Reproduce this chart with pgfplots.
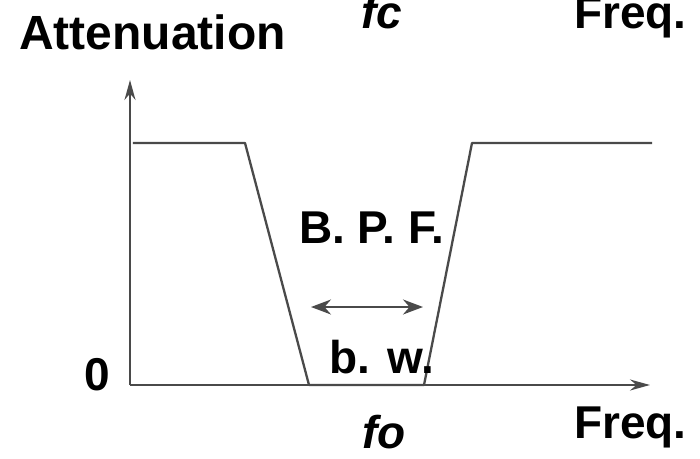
\documentclass[border=0pt]{standalone}
\usepackage{fontspec}
\setmainfont{Liberation Sans}
\usepackage{pgfplots}
\pgfplotsset{compat=1.18}
\usetikzlibrary{arrows.meta}

\definecolor{lineg}{HTML}{4A4A4A}
\tikzset{txt/.style={font=\fontsize{46}{50}\selectfont\bfseries, inner sep=0pt, anchor=base west},
         itx/.style={txt, font=\fontsize{46}{50}\selectfont\bfseries\itshape}}

\begin{document}
\begin{tikzpicture}
\begin{axis}[
  x=1pt, y=1pt,
  xmin=130, xmax=650, ymin=73, ymax=378,
  axis lines=left,
  axis line style={lineg, line width=2.3pt},
  x axis line style={-{Stealth[length=20pt,width=11pt]}},
  y axis line style={-{Stealth[length=20pt,width=11pt]}},
  xtick=\empty, ytick=\empty,
  clip=false,
]
% pass-band attenuation profile (pixel coords, y flipped)
\addplot[lineg, line width=2.3pt, line join=round] coordinates {
  (133,315) (245,315) (309,73) (424,73) (472,315) (652,315)
};
% bandwidth arrow
\addplot[lineg, line width=2pt, {Stealth[length=20pt,width=15pt]}-{Stealth[length=20pt,width=15pt]}]
  coordinates {(311,151) (423,151)};

\node[txt, font=\fontsize{48}{52}\selectfont\bfseries] at (axis cs:19,408) {Attenuation};
\node[itx] at (axis cs:361,429) {fc};
\node[txt] at (axis cs:574,429) {Freq.};
\node[txt] at (axis cs:299,215) {B. P. F.};
\node[txt] at (axis cs:329,85) {b. w.};
\node[txt] at (axis cs:84,68) {0};
\node[txt] at (axis cs:574,20) {Freq.};
\node[itx] at (axis cs:362,10) {fo};

\coordinate (bbsw) at (axis cs:0,0);
\coordinate (bbne) at (axis cs:700,458);
\end{axis}
\pgfresetboundingbox
\useasboundingbox (bbsw) rectangle (bbne);
\end{tikzpicture}
\end{document}
